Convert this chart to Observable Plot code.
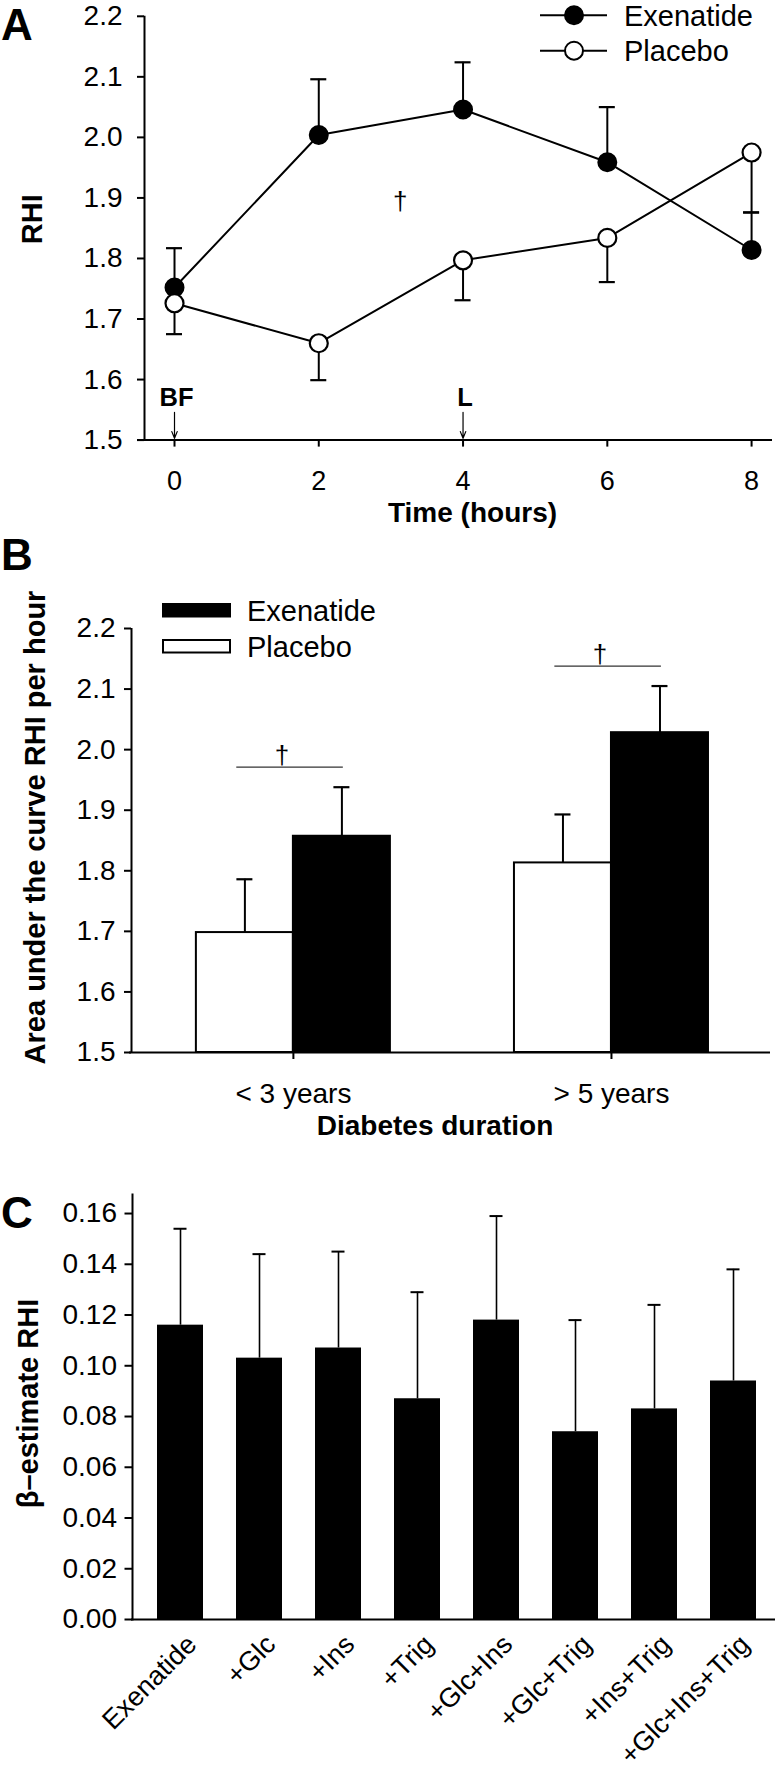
<!DOCTYPE html>
<html><head><meta charset="utf-8">
<script src="https://cdn.jsdelivr.net/npm/d3@7"></script>
<script src="https://cdn.jsdelivr.net/npm/@observablehq/plot@0.6"></script>
<style>
body{margin:0;background:#fff;}
#root{position:relative;width:784px;height:1769px;font-family:"Liberation Sans",Arial,sans-serif;background:#fff;overflow:hidden;}
.panel{position:absolute;left:0;}
.plabel{position:absolute;font-weight:bold;font-size:44px;line-height:1;color:#000;}
</style></head><body><div id="root"></div>
<script>
// ---------- data ----------
const hours = [0, 2, 4, 6, 8];
const exenatideRHI   = [1.752, 2.004, 2.046, 1.959, 1.814];
const exenatideRHISE = [0.065, 0.092, 0.078, 0.091, 0.062];
const placeboRHI     = [1.726, 1.660, 1.797, 1.834, 1.975];
const placeboRHISE   = [0.051, 0.061, 0.066, 0.073, 0.099];
const yTicksA = [1.5, 1.6, 1.7, 1.8, 1.9, 2.0, 2.1, 2.2];
const meals = ["BF", "L"];
const mealHours = [0, 4];
const mealArrowFrom = [1.546, 1.546];
const mealArrowTo = [1.503, 1.503];
const daggerAHour = 3.13, daggerARHI = 1.894;

const durations = ["< 3 years", "> 5 years"];
const placeboAUC     = [1.698, 1.813];
const placeboAUCSE   = [0.088, 0.080];
const exenatideAUC   = [1.857, 2.028];
const exenatideAUCSE = [0.081, 0.077];
const sigAUC = [1.971, 2.138];
const yTicksB = [1.5, 1.6, 1.7, 1.8, 1.9, 2.0, 2.1, 2.2];

const models = ["Exenatide", "+Glc", "+Ins", "+Trig", "+Glc+Ins", "+Glc+Trig", "+Ins+Trig", "+Glc+Ins+Trig"];
const betaRHI   = [0.116, 0.103, 0.107, 0.087, 0.118, 0.074, 0.083, 0.094];
const betaRHISE = [0.038, 0.041, 0.038, 0.042, 0.041, 0.044, 0.041, 0.044];
const yTicksC = [0, 0.02, 0.04, 0.06, 0.08, 0.10, 0.12, 0.14, 0.16];

const seriesNames = ["Exenatide", "Placebo"];

// ---------- layout ----------
const FONT = "'Liberation Sans', Arial, sans-serif";
const root = document.getElementById("root");
function place(el, top) { el.classList.add("panel"); el.style.top = top + "px"; root.appendChild(el); }
function letter(t, top, left) { const d = document.createElement("div"); d.className = "plabel"; d.textContent = t; d.style.top = top + "px"; d.style.left = left + "px"; root.appendChild(d); }

// ---------- Panel A ----------
const exRows = hours.map((h, i) => ({hour: h, v: exenatideRHI[i], hi: exenatideRHI[i] + exenatideRHISE[i]}));
const plRows = hours.map((h, i) => ({hour: h, v: placeboRHI[i], lo: placeboRHI[i] - placeboRHISE[i]}));
const mealRows = meals.map((m, i) => ({label: m, hour: mealHours[i], from: mealArrowFrom[i], to: mealArrowTo[i]}));
const xDomA = [-0.416, 8.29];

const A = Plot.plot({
  width: 784, height: 530,
  marginLeft: 144, marginRight: 12, marginTop: 15.8, marginBottom: 90.4,
  x: {domain: xDomA},
  y: {domain: [1.5, 2.2]},
  style: {fontFamily: FONT, color: "black", background: "transparent", overflow: "visible"},
  marks: [
    Plot.axisY({ticks: yTicksA, tickFormat: d3.format(".1f"), tickSize: 7, tickPadding: 15, fontSize: 28, label: null, strokeWidth: 2}),
    Plot.axisX({ticks: hours, tickFormat: d3.format("d"), tickSize: 7, tickPadding: 24, fontSize: 27, label: null, strokeWidth: 2}),
    Plot.ruleX([xDomA[0]], {strokeWidth: 2}),
    Plot.ruleY([1.5], {strokeWidth: 2, insetLeft: -7}),
    Plot.line(exRows, {x: "hour", y: "v", stroke: "black", strokeWidth: 2}),
    Plot.line(plRows, {x: "hour", y: "v", stroke: "black", strokeWidth: 2}),
    Plot.ruleX(exRows, {x: "hour", y1: "v", y2: "hi", strokeWidth: 2}),
    Plot.ruleY(exRows, {x1: "hour", x2: "hour", y: "hi", strokeWidth: 2.2, insetLeft: -8, insetRight: -8}),
    Plot.ruleX(plRows, {x: "hour", y1: "v", y2: "lo", strokeWidth: 2}),
    Plot.ruleY(plRows, {x1: "hour", x2: "hour", y: "lo", strokeWidth: 2.2, insetLeft: -8, insetRight: -8}),
    Plot.dot(exRows, {x: "hour", y: "v", r: 9, fill: "black", stroke: "black", strokeWidth: 2}),
    Plot.dot(plRows, {x: "hour", y: "v", r: 9, fill: "white", stroke: "black", strokeWidth: 2.2}),
    Plot.text([{hour: daggerAHour, v: daggerARHI}], {x: "hour", y: "v", text: () => "\u2020", fontSize: 26, fill: "black"}),
    Plot.text(mealRows, {x: "hour", text: "label", frameAnchor: "bottom", lineAnchor: "bottom", dy: -34.6, dx: 2, fontSize: 25.5, fontWeight: "bold"}),
    Plot.arrow(mealRows, {x1: "hour", x2: "hour", y1: "from", y2: "to", headLength: 9, headAngle: 44, strokeWidth: 1.2, stroke: "black"}),
    Plot.text(["RHI"], {frameAnchor: "left", textAnchor: "middle", rotate: -90, dx: -112, dy: -9, fontSize: 29, fontWeight: "bold"}),
    Plot.text(["Time (hours)"], {frameAnchor: "bottom", lineAnchor: "bottom", dx: 14, dy: 82, fontSize: 28, fontWeight: "bold"})
  ]
});
place(A, 0);

// ---------- Panel B ----------
const BW = 0.305;
const bRows = durations.map((d, i) => ({
  i, d,
  p: placeboAUC[i], pHi: placeboAUC[i] + placeboAUCSE[i],
  e: exenatideAUC[i], eHi: exenatideAUC[i] + exenatideAUCSE[i],
  sig: sigAUC[i]
}));
const xDomB = [-0.509, 1.5];
const B = Plot.plot({
  width: 784, height: 615,
  marginLeft: 131, marginRight: 14, marginTop: 98, marginBottom: 93,
  x: {domain: xDomB},
  y: {domain: [1.5, 2.2]},
  style: {fontFamily: FONT, color: "black", background: "transparent", overflow: "visible"},
  marks: [
    Plot.rectY(bRows, {x1: d => d.i - BW, x2: "i", y1: () => 1.5, y2: "p", fill: "white", stroke: "black", strokeWidth: 2}),
    Plot.rectY(bRows, {x1: "i", x2: d => d.i + BW, y1: () => 1.5, y2: "e", fill: "black", stroke: "black", strokeWidth: 2}),
    Plot.ruleX(bRows, {x: d => d.i - BW / 2, y1: "p", y2: "pHi", strokeWidth: 2}),
    Plot.ruleY(bRows, {x1: d => d.i - BW / 2, x2: d => d.i - BW / 2, y: "pHi", strokeWidth: 2.2, insetLeft: -8, insetRight: -8}),
    Plot.ruleX(bRows, {x: d => d.i + BW / 2, y1: "e", y2: "eHi", strokeWidth: 2}),
    Plot.ruleY(bRows, {x1: d => d.i + BW / 2, x2: d => d.i + BW / 2, y: "eHi", strokeWidth: 2.2, insetLeft: -8, insetRight: -8}),
    Plot.ruleY(bRows, {x1: d => d.i - 0.178, x2: d => d.i + 0.157, y: "sig", strokeWidth: 1.2, stroke: "#333"}),
    Plot.text(bRows, {x: d => d.i - 0.036, y: "sig", text: () => "\u2020", lineAnchor: "bottom", dy: -3, fontSize: 26, fill: "black"}),
    Plot.axisY({ticks: yTicksB, tickFormat: d3.format(".1f"), tickSize: 7, tickPadding: 9, fontSize: 28, label: null, strokeWidth: 2}),
    Plot.axisX({ticks: [0, 1], tickFormat: i => durations[i], tickSize: 7, tickPadding: 24, fontSize: 28, label: null, strokeWidth: 2}),
    Plot.ruleX([xDomB[0]], {strokeWidth: 2}),
    Plot.ruleY([1.5], {strokeWidth: 2, insetLeft: -2}),
    Plot.text(["Area under the curve RHI per hour"], {frameAnchor: "left", textAnchor: "middle", rotate: -90, dx: -96, dy: -13, fontSize: 29, fontWeight: "bold"}),
    Plot.text(["Diabetes duration"], {frameAnchor: "bottom", lineAnchor: "bottom", dx: -16, dy: 82, fontSize: 28, fontWeight: "bold"})
  ]
});
place(B, 530);

// ---------- Panel C ----------
const cRows = models.map((m, i) => ({model: m, v: betaRHI[i], hi: betaRHI[i] + betaRHISE[i]}));
const C = Plot.plot({
  width: 784, height: 624,
  marginLeft: 132, marginRight: 9, marginTop: 49, marginBottom: 150,
  x: {type: "band", domain: models, range: [140.1, 772.9], paddingInner: 0.42, paddingOuter: 0.2, axis: null},
  y: {domain: [0, 0.1675]},
  style: {fontFamily: FONT, color: "black", background: "transparent", overflow: "visible"},
  marks: [
    Plot.barY(cRows, {x: "model", y: "v", fill: "black"}),
    Plot.ruleX(cRows, {x: "model", y1: "v", y2: "hi", strokeWidth: 1.6}),
    Plot.tickY(cRows, {x: "model", y: "hi", strokeWidth: 2, insetLeft: 16.5, insetRight: 16.5}),
    Plot.axisY({ticks: yTicksC, tickFormat: d3.format(".2f"), tickSize: 7.5, tickPadding: 8, fontSize: 28, label: null, strokeWidth: 2}),
    Plot.frame({anchor: "left", strokeWidth: 2}),
    Plot.ruleY([0], {strokeWidth: 2, insetLeft: -1}),
    Plot.text(cRows, {x: "model", text: "model", frameAnchor: "bottom", rotate: -45, textAnchor: "end", lineAnchor: "top", dx: 4, dy: 13, fontSize: 27}),
    Plot.text(["\u03b2\u2013estimate RHI"], {frameAnchor: "left", textAnchor: "middle", rotate: -90, dx: -103.5, dy: -3.5, fontSize: 29, fontWeight: "bold"})
  ]
});
place(C, 1145);

// ---------- panel letters ----------
letter("A", 3, 1);
letter("B", 533, 1);
letter("C", 1191, 1);

// ---------- legends (overlay) ----------
const leg = d3.create("svg").attr("width", 784).attr("height", 1769)
  .style("position", "absolute").style("left", "0px").style("top", "0px")
  .style("font-family", FONT);
const legA = leg.append("g");
seriesNames.forEach((s, i) => {
  const cy = 15.2 + i * 35.5;
  legA.append("line").attr("x1", 540).attr("x2", 607).attr("y1", cy).attr("y2", cy).attr("stroke", "black").attr("stroke-width", 2);
  legA.append("circle").attr("cx", 574).attr("cy", cy).attr("r", 9)
    .attr("fill", i === 0 ? "black" : "white").attr("stroke", "black").attr("stroke-width", 2);
  legA.append("text").attr("x", 624).attr("y", cy + 10.3).attr("font-size", 29).text(s);
});
const legB = leg.append("g");
seriesNames.forEach((s, i) => {
  const top = 604 + i * 36;
  legB.append("rect").attr("x", 163).attr("y", top).attr("width", 67).attr("height", 12.5)
    .attr("fill", i === 0 ? "black" : "white").attr("stroke", "black").attr("stroke-width", 2);
  legB.append("text").attr("x", 247).attr("y", top + 16.5).attr("font-size", 29).text(s);
});
root.appendChild(leg.node());
</script>
</body></html>
